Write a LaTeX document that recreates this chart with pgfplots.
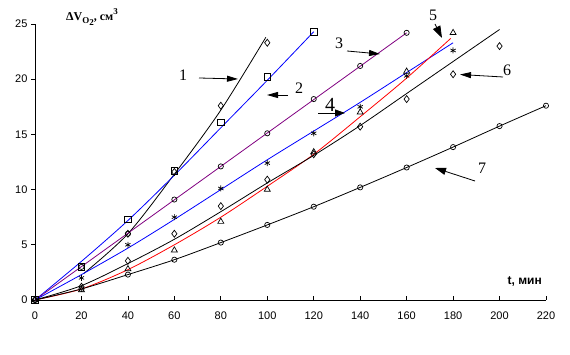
\documentclass[border=0pt]{standalone}
\usepackage{fontspec}
\setmainfont{Liberation Serif}
\setsansfont{Liberation Sans}
\usepackage{pgfplots}
\pgfplotsset{compat=1.18}
\usetikzlibrary{arrows.meta}
\definecolor{purp}{RGB}{128,0,128}
\begin{document}
\begin{tikzpicture}[x=1pt,y=1pt]
\useasboundingbox (0,0) rectangle (570,355);
\begin{axis}[
  scale only axis, width=511pt, height=276pt,
  at={(35pt,55pt)}, anchor=south west,
  xmin=0, xmax=220, ymin=0, ymax=25,
  axis lines*=left,
  axis line style={line width=0.8pt},
  xtick={0,20,...,220}, ytick={0,5,...,25},
  xtick align=inside, ytick align=outside,
  major tick length=4pt,
  tick style={black, line width=0.8pt},
  tick label style={font=\sffamily\fontsize{11}{13}\selectfont},
  /pgf/number format/assume math mode=true,
  xticklabel style={yshift=-8pt},
  clip=false,
]
% trend lines
\addplot[black, line width=0.8pt, smooth, no marks] coordinates {(21,2.4)(40,6.0)(60,11.4)(80,17.2)(99.4,23.8)};
\addplot[blue, line width=0.8pt, smooth, no marks] coordinates {(0,0)(20,3.5)(40,7.2)(60,11.3)(80,15.6)(100,19.9)(120,24.3)};
\addplot[purp, line width=0.8pt, no marks] coordinates {(0,0)(160,24.2)};
\addplot[blue, line width=0.8pt, smooth, no marks] coordinates {(0,0)(20,2.3)(40,4.7)(60,7.3)(80,10.0)(100,12.7)(120,15.3)(140,17.9)(160,20.6)(180,23.3)};
\addplot[red, line width=0.8pt, smooth, no marks] coordinates {(0,0)(20,1.0)(40,2.75)(60,5.0)(80,7.5)(100,10.3)(120,13.2)(140,16.6)(160,20.1)(179,23.7)};
\addplot[black, line width=0.8pt, smooth, no marks] coordinates {(0,0)(20,1.3)(40,3.3)(60,5.5)(80,8.0)(100,10.6)(120,13.1)(140,15.8)(160,18.7)(180,21.6)(200,24.5)};
\addplot[black, line width=0.8pt, smooth, no marks] coordinates {(0,0)(20,1.0)(40,2.3)(60,3.65)(80,5.2)(100,6.8)(120,8.45)(140,10.2)(160,12.0)(180,13.85)(200,15.75)(220,17.6)};
% data points
\addplot[only marks, mark=diamond, mark size=3.5pt, mark options={black, line width=0.7pt}] coordinates {(0,0)(40,6.0)(60,11.6)(80,17.6)(100,23.3)};
\addplot[only marks, mark=square, mark size=3.3pt, mark options={black, line width=0.8pt}] coordinates {(0,0)(20,3.0)(40,7.3)(60,11.7)(80,16.1)(100,20.2)(120,24.3)};
\addplot[only marks, mark=o, mark size=2.6pt, mark options={black, line width=0.7pt}] coordinates {(0,0)(20,3.0)(40,6.0)(60,9.1)(80,12.1)(100,15.1)(120,18.2)(140,21.2)(160,24.2)};
\addplot[only marks, mark=asterisk, mark size=3pt, mark options={black, line width=0.7pt}] coordinates {(20,2.0)(40,5.0)(60,7.5)(80,10.1)(100,12.4)(120,15.1)(140,17.5)(160,20.3)(180,22.6)};
\addplot[only marks, mark=triangle, mark size=3.5pt, mark options={black, line width=0.7pt}] coordinates {(0,0)(20,0.9)(40,2.8)(60,4.5)(80,7.1)(100,10.0)(120,13.4)(140,17.0)(160,20.7)(180,24.2)};
\addplot[only marks, mark=diamond, mark size=3.5pt, mark options={black, line width=0.7pt}] coordinates {(20,1.2)(40,3.55)(60,6.0)(80,8.5)(100,10.9)(120,13.2)(140,15.7)(160,18.2)(180,20.45)(200,23.0)};
\addplot[only marks, mark=o, mark size=2.6pt, mark options={black, line width=0.7pt}] coordinates {(20,1.0)(40,2.3)(60,3.65)(80,5.2)(100,6.8)(120,8.45)(140,10.2)(160,12.0)(180,13.85)(200,15.75)(220,17.6)};
\end{axis}
% axis titles
\node[anchor=base west, inner sep=0pt, font=\bfseries\fontsize{12}{12}\selectfont] at (66,334.3)
  {ΔV\raisebox{-3pt}{\fontsize{9}{9}\selectfont O\raisebox{-1.5pt}{2}}, см\raisebox{6pt}{\fontsize{9}{9}\selectfont 3}};
\node[anchor=base east, inner sep=0pt, font=\sffamily\bfseries\fontsize{12}{12}\selectfont] at (542,70) {t, мин};
% annotations
\begin{scope}[every node/.style={font=\fontsize{16}{16}\selectfont, inner sep=0pt}]
\node at (183,280) {1};
\draw[line width=0.8pt, -{Triangle[length=11pt,width=6pt]}] (199,277) -- (238,276);
\node at (299,267) {2};
\draw[line width=0.8pt, -{Triangle[length=11pt,width=6pt]}] (288,260) -- (267,260);
\node at (339,312) {3};
\draw[line width=0.8pt, -{Triangle[length=11pt,width=6pt]}] (347,304) -- (380,301);
\node[font=\fontsize{20}{20}\selectfont] at (330,250) {4};
\draw[line width=0.8pt, -{Triangle[length=10pt,width=7pt]}] (318,242) -- (345,242);
\node at (433,340) {5};
\draw[line width=0.8pt, -{Triangle[length=12pt,width=8pt]}] (435,331) -- (442,317);
\node at (507,285) {6};
\draw[line width=0.8pt, -{Triangle[length=11pt,width=6pt]}] (503,278) -- (460,280.5);
\node at (482,187) {7};
\draw[line width=0.8pt, -{Triangle[length=11pt,width=7pt]}] (475,174) -- (435,187);
\end{scope}
\end{tikzpicture}
\end{document}
